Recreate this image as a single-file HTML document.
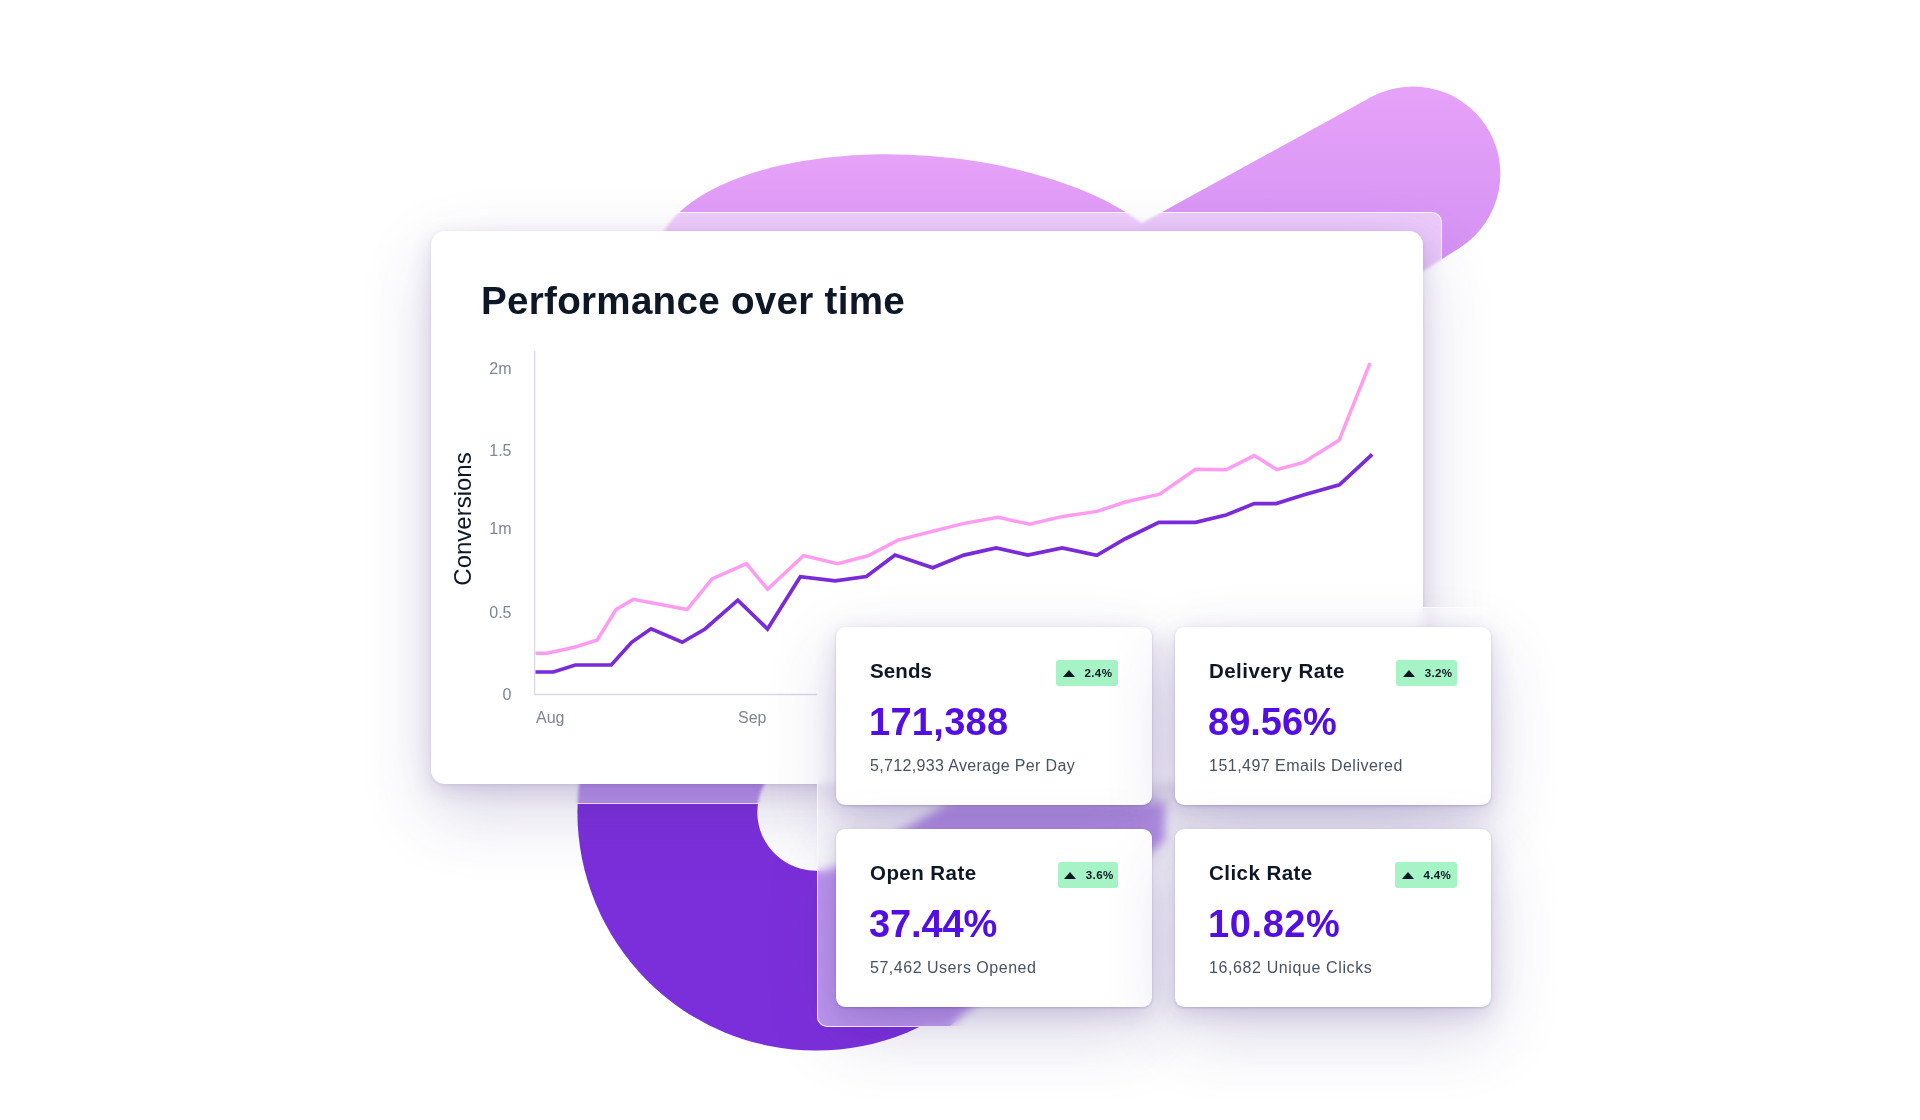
<!DOCTYPE html>
<html><head><meta charset="utf-8">
<style>
*{box-sizing:border-box;margin:0;padding:0}
html,body{width:1920px;height:1120px;overflow:hidden;background:#fff}
body{position:relative;font-family:"Liberation Sans",sans-serif}
.abs{position:absolute}
#bg{position:absolute;left:0;top:0}
.glass1{position:absolute;left:560px;top:212px;width:882px;height:592px;border-radius:10px;
  background:rgba(255,255,255,0.5);border:1px solid rgba(255,255,255,0.9);
  backdrop-filter:blur(1.5px);-webkit-backdrop-filter:blur(1.5px)}
.card{position:absolute;left:431px;top:231px;width:992px;height:553px;border-radius:14px;background:#fff;
  box-shadow:0 1px 3.5px rgba(60,35,125,0.095),0 7px 21.8px rgba(70,45,140,0.151),0 27.2px 70px rgba(70,50,130,0.2)}
.title{position:absolute;left:50px;top:50.5px;letter-spacing:0.28px;font-size:38.6px;font-weight:bold;color:#0e1726;white-space:nowrap;line-height:1}
.glass2{position:absolute;left:817px;top:607px;width:692px;height:420px;border-radius:10px;
  background:rgba(255,255,255,0.5);border:1px solid rgba(255,255,255,0.95);
  backdrop-filter:blur(5px);-webkit-backdrop-filter:blur(5px)}
.stat{position:absolute;width:316px;height:178px;border-radius:9px;background:#fff;
  box-shadow:0 1px 2.5px rgba(60,35,125,0.23),0 7.6px 23px rgba(70,45,140,0.16),0 26px 70px rgba(70,50,130,0.2)}
.stat .lbl{position:absolute;left:34px;top:33.7px;letter-spacing:0.45px;font-size:20.5px;font-weight:bold;color:#0e1726;white-space:nowrap;line-height:1}
.stat .val{position:absolute;left:33px;top:76px;letter-spacing:0.3px;font-size:38px;font-weight:bold;color:#520ee3;white-space:nowrap;line-height:1}
.stat .sub{position:absolute;left:34px;top:131px;font-size:16px;letter-spacing:0.35px;color:#475262;white-space:nowrap;line-height:1}
.badge{position:absolute;top:33.2px;height:25.8px;border-radius:3px;background:#a6f3c5;color:#0e1726;font-size:11.6px;letter-spacing:0.35px;font-weight:bold;line-height:25px;white-space:nowrap}
.badge i{position:absolute;left:6.5px;top:9.7px;width:0;height:0;border-left:6.2px solid transparent;border-right:6.2px solid transparent;border-bottom:7px solid #0e1726}
.badge span{position:absolute;left:28.3px;top:-0.2px}
</style></head><body>
<svg id="bg" width="1920" height="1120" viewBox="0 0 1920 1120">
  <defs>
    <linearGradient id="pg1" gradientUnits="userSpaceOnUse" x1="0" y1="150" x2="0" y2="232">
      <stop offset="0" stop-color="#e7a3f9"/>
      <stop offset="1" stop-color="#dd99f5"/>
    </linearGradient>
    <linearGradient id="pg2" gradientUnits="userSpaceOnUse" x1="0" y1="85" x2="0" y2="265">
      <stop offset="0" stop-color="#e7a3f9"/>
      <stop offset="1" stop-color="#d391f3"/>
    </linearGradient>
  </defs>
  <path d="M 654.94 258.25 A 267 123 4.39 1 1 1187.38 299.13 A 267 123 4.39 1 1 654.94 258.25 Z" fill="url(#pg1)"/>
  <circle cx="1412.93" cy="173.87" r="87.42" fill="url(#pg2)"/>
  <polygon points="1143,222.4 1370.84,97.25 1460.22,247.39 1123.8,463.8 1000,400" fill="url(#pg2)"/>
  <mask id="holeMask" maskUnits="userSpaceOnUse" x="0" y="0" width="1920" height="1120">
    <rect x="0" y="0" width="1920" height="1120" fill="#fff"/>
    <line x1="816" y1="812" x2="1296" y2="535" stroke="#000" stroke-width="117.4" stroke-linecap="round"/>
  </mask>
  <g mask="url(#holeMask)" fill="#7b2fda">
    <circle cx="816" cy="812" r="238.6"/>
    <polygon points="905,1026 950,1026 1165,840 1165,800 900,700"/>
  </g>
</svg>
<div class="glass1"></div>
<div class="card">
  <div class="title">Performance over time</div>
</div>
<svg class="abs" style="left:0;top:0" width="1920" height="1120">
  <line x1="534.6" y1="351" x2="534.6" y2="694.5" stroke="#dcd7ea" stroke-width="1.3"/>
  <line x1="534" y1="694.5" x2="817" y2="694.5" stroke="#dcd7ea" stroke-width="1.3"/>
  <g font-family="Liberation Sans" font-size="16" fill="#7e8696" text-anchor="end">
    <text x="511.5" y="374.4">2m</text>
    <text x="511.5" y="455.7">1.5</text>
    <text x="511.5" y="533.6">1m</text>
    <text x="511.5" y="618">0.5</text>
    <text x="511.5" y="700.2">0</text>
  </g>
  <g font-family="Liberation Sans" font-size="16" fill="#7e8696">
    <text x="536" y="722.7">Aug</text>
    <text x="738" y="722.7">Sep</text>
  </g>
  <text transform="translate(471,519) rotate(-90)" text-anchor="middle" font-family="Liberation Sans" font-size="24" fill="#0e1726">Conversions</text>
  <polyline fill="none" stroke="#ff9cf2" stroke-width="3.5" stroke-linejoin="miter" points="535.5,653.3 547.2,653.3 575.3,647 597.2,640 616,609.5 633.1,599.4 687,609.5 712,579 746.4,563.75 767.5,589.2 803.4,555.6 837.5,563.6 868,555.8 898,540.1 932.7,531.3 963.9,523.4 998,517.4 1029.6,524.3 1062.6,516.4 1097,511.4 1125.3,502 1159.7,494.2 1195.6,469.2 1226,469.7 1254.2,455.6 1276.9,469.7 1303.4,462.5 1339,440.3 1370,363.1"/>
  <polyline fill="none" stroke="#7a2ad8" stroke-width="3.7" stroke-linejoin="miter" points="535.5,672 553.4,672 575.3,665 611.25,665 631.6,642.3 651,628.75 682.3,642.3 705,629 737.8,600.2 767.5,629 800.3,576.7 835.2,580.8 866.4,576.6 895,555.1 932.7,567.7 963.9,555.1 996.2,547.9 1027.9,555.1 1062.1,547.9 1096.8,555.3 1125.3,538.75 1158.9,522.3 1195.6,522.3 1226.1,515 1254.2,503.6 1276.1,503.6 1303.4,495 1339.4,484.8 1372.2,454.4"/>
</svg>
<div class="glass2"></div>
<div class="stat" style="left:836px;top:627px">
  <div class="lbl" style="letter-spacing:0.1px">Sends</div>
  <div class="badge" style="left:220.2px;width:61.8px"><i></i><span>2.4%</span></div>
  <div class="val">171,388</div>
  <div class="sub">5,712,933 Average Per Day</div>
</div>
<div class="stat" style="left:1175px;top:627px">
  <div class="lbl">Delivery Rate</div>
  <div class="badge" style="left:221.4px;width:60.5px"><i></i><span>3.2%</span></div>
  <div class="val" style="letter-spacing:0">89.56%</div>
  <div class="sub" style="letter-spacing:0.48px">151,497 Emails Delivered</div>
</div>
<div class="stat" style="left:836px;top:829px">
  <div class="lbl">Open Rate</div>
  <div class="badge" style="left:221.5px;width:60.5px"><i></i><span>3.6%</span></div>
  <div class="val" style="letter-spacing:-0.1px">37.44%</div>
  <div class="sub" style="letter-spacing:0.52px">57,462 Users Opened</div>
</div>
<div class="stat" style="left:1175px;top:829px">
  <div class="lbl">Click Rate</div>
  <div class="badge" style="left:220.1px;width:61.6px"><i></i><span>4.4%</span></div>
  <div class="val" style="letter-spacing:0.6px">10.82%</div>
  <div class="sub" style="letter-spacing:0.61px">16,682 Unique Clicks</div>
</div>
</body></html>
